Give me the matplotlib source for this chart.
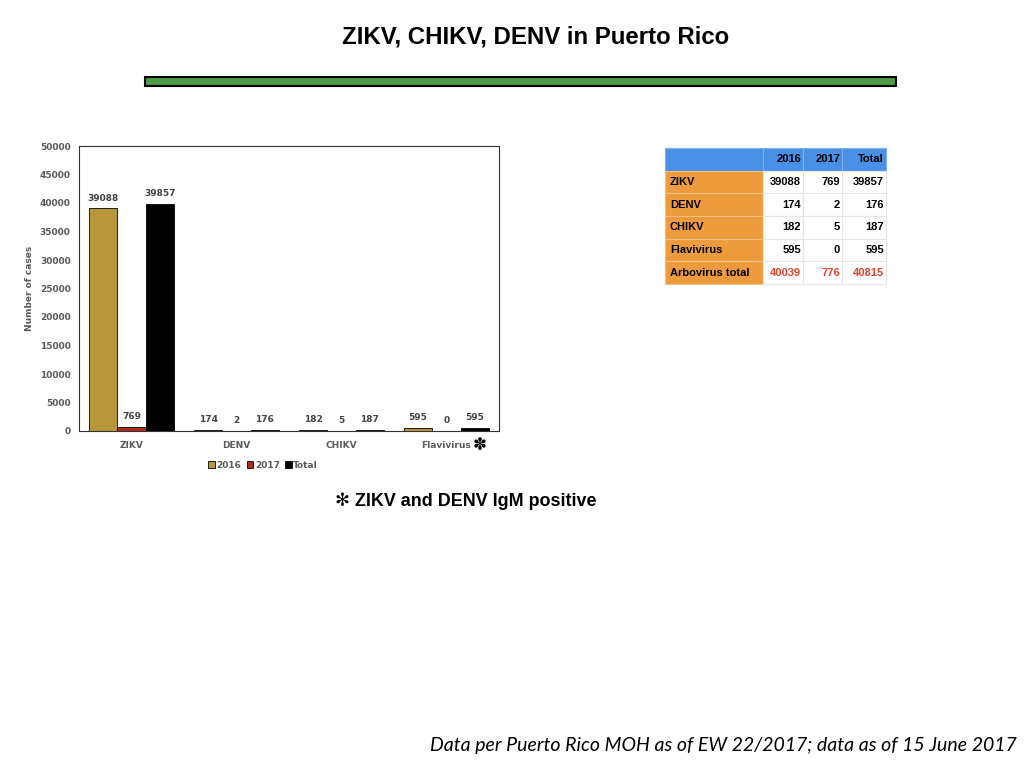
import matplotlib.pyplot as plt
import numpy as np
from matplotlib.patches import Rectangle

viruses = ["ZIKV", "DENV", "CHIKV", "Flavivirus"]
cases2016 = [39088, 174, 182, 595]
cases2017 = [769, 2, 5, 0]
casesTotal = [39857, 176, 187, 595]

tableRows = ["ZIKV", "DENV", "CHIKV", "Flavivirus", "Arbovirus total"]
tableCols = ["2016", "2017", "Total"]
arboTotal = [40039, 776, 40815]

gold = "#B8963A"
red = "#B02A1E"
grey = "#5A5A5A"

plt.rcParams['font.family'] = ['Liberation Sans', 'DejaVu Sans']
fig = plt.figure(figsize=(10.24, 7.68), dpi=100)

# title + green bar
fig.text(0.523, 0.952, "ZIKV, CHIKV, DENV in Puerto Rico", ha="center", va="center",
         fontsize=17.3, fontweight="bold")
fig.patches.append(Rectangle((145 / 1024, 1 - 86 / 768), 751 / 1024, 9 / 768,
                             transform=fig.transFigure, facecolor="#4F9A48",
                             edgecolor="black", linewidth=1.5))

# bar chart
chartFont = ["DejaVu Sans"]
ax = fig.add_axes([79 / 1024, 1 - 431 / 768, 420 / 1024, 285 / 768])
x = np.arange(len(viruses))
w = 0.27
series = [(cases2016, gold, "2016"), (cases2017, red, "2017"), (casesTotal, "black", "Total")]
for k, (vals, col, lab) in enumerate(series):
    pos = x + (k - 1) * w
    ax.bar(pos, vals, w, color=col, edgecolor="black", linewidth=0.6, label=lab)
    for px, v in zip(pos, vals):
        ax.annotate(str(v), (px, v), xytext=(0, 4), textcoords="offset points",
                    ha="center", va="bottom", fontsize=6.5, fontweight="bold",
                    color="#444444", family=chartFont)

ax.set_xlim(-0.5, 3.5)
ax.set_ylim(0, 50000)
ax.set_yticks(np.arange(0, 50001, 5000))
ax.set_xticks(x)
ax.set_xticklabels(viruses)
ax.tick_params(axis="x", length=0, labelsize=6.5, labelcolor=grey, pad=7)
ax.tick_params(axis="y", length=0, labelsize=6.5, labelcolor=grey, pad=6)
for t in ax.get_xticklabels() + ax.get_yticklabels():
    t.set_fontweight("bold")
    t.set_family(chartFont)
ax.set_ylabel("Number of cases", fontsize=6.5, fontweight="bold", color=grey, labelpad=4,
              family=chartFont)
for s in ax.spines.values():
    s.set_color("#333333")
    s.set_linewidth(0.8)
ax.annotate("\u273D", (3, 0), xycoords=("data", "axes fraction"), xytext=(24, -10),
            textcoords="offset points", ha="center", va="center", fontsize=12,
            family=["DejaVu Sans"])

fig.legend(loc="center", bbox_to_anchor=(0.257, 1 - 465 / 768), ncol=3, frameon=False,
           handlelength=0.7, handleheight=0.7, handletextpad=0.2,
           columnspacing=0.6, labelcolor=grey,
           prop={"weight": "bold", "size": 6.5, "family": chartFont})

# table
tax = fig.add_axes([665 / 1024, 1 - 284 / 768, 221 / 1024, 136 / 768])
tax.axis("off")
cellText = [["", *tableCols]]
for i, r in enumerate(tableRows[:-1]):
    cellText.append([r, str(cases2016[i]), str(cases2017[i]), str(casesTotal[i])])
cellText.append([tableRows[-1]] + [str(v) for v in arboTotal])
colW = np.array([98, 40, 39, 44]) / 221
tbl = tax.table(cellText=cellText, bbox=[0, 0, 1, 1], colWidths=colW)
tbl.auto_set_font_size(False)
for (r, c), cell in tbl.get_celld().items():
    cell.set_edgecolor("#E4E4E4")
    cell.set_linewidth(0.8)
    txt = cell.get_text()
    txt.set_fontsize(8)
    txt.set_fontweight("bold")
    if r == 0:
        cell.set_facecolor("#4A90E6")
        cell.set_edgecolor("#7FB0EE")
        txt.set_ha("right")
        cell._loc = "right"
    elif c == 0:
        cell.set_facecolor("#EE9B3E")
        cell.set_edgecolor("#F5C080")
        cell._loc = "left"
        txt.set_ha("left")
    else:
        cell.set_facecolor("white")
        cell._loc = "right"
        txt.set_ha("right")
        if r == len(cellText) - 1:
            txt.set_color("#E0442C")
    cell.PAD = 0.05

# footnotes
fig.text(335 / 1024, 1 - 501 / 768, "\u273B ZIKV and DENV IgM positive", ha="left", va="center",
         fontsize=12.9, fontweight="bold", family=["Liberation Sans", "DejaVu Sans"])
fig.text(0.993, 1 - 745 / 768, "Data per Puerto Rico MOH as of EW 22/2017; data as of 15 June 2017",
         ha="right", va="center", fontsize=14, style="italic", family=["Lato"])

fig.savefig("out.png", dpi=100)
